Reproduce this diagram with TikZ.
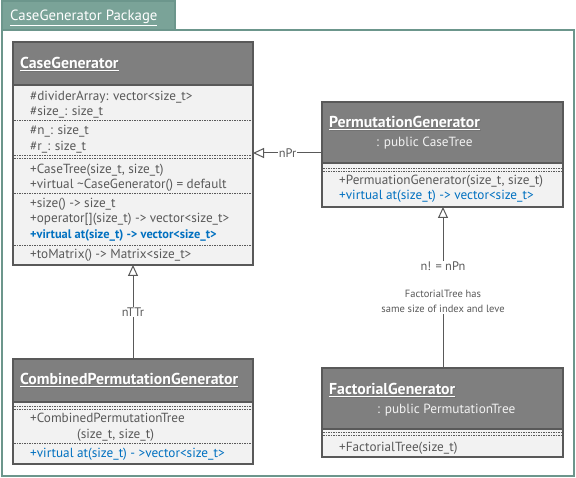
\documentclass[tikz,border=0pt]{standalone}
\usepackage{fontspec}
\setmainfont{PT Sans}
\usetikzlibrary{arrows.meta}
\definecolor{pkgteal}{RGB}{122,163,152}
\definecolor{pkgline}{RGB}{108,150,140}
\definecolor{hdrgray}{RGB}{127,127,127}
\definecolor{bodygray}{RGB}{242,242,242}
\definecolor{txtgray}{RGB}{89,89,89}
\definecolor{virtblue}{RGB}{0,112,192}
\begin{document}
\begin{tikzpicture}[x=1pt, y=-1pt]
    \tikzstyle{classbox}=[draw=txtgray, fill=bodygray, line width=1.2pt, anchor=north west, inner sep=0pt, outer sep=0pt]
    \tikzstyle{header}=[draw=txtgray, fill=hdrgray, line width=1.2pt]
    \tikzstyle{clstitle}=[anchor=base west, yshift=-5.5pt, text=white, font=\fontsize{15.8}{18}\selectfont\bfseries, inner sep=0pt]
    \tikzstyle{tshadow}=[clstitle, text=black!55]
    \tikzstyle{parent}=[anchor=base west, yshift=-4.6pt, text=bodygray, font=\fontsize{13.3}{15}\selectfont, inner sep=0pt]
    \tikzstyle{member}=[anchor=base west, yshift=-4.6pt, text=txtgray, font=\fontsize{13.2}{15}\selectfont, inner sep=0pt]
    \tikzstyle{virtual}=[member, text=virtblue]
    \tikzstyle{rowsep}=[txtgray, line width=0.8pt, dash pattern=on 1.5pt off 1pt]
    \tikzstyle{inherit}=[txtgray, line width=1pt, -{Triangle[fill=white, length=11pt, width=10pt]}]
    \tikzstyle{lbl}=[fill=white, text=txtgray, font=\fontsize{12.4}{15}\selectfont, inner sep=1pt]
    \useasboundingbox (0,0) rectangle (576,478);
    \fill [white] (0,0) rectangle (576,478);
    \draw [pkgline, fill=pkgteal, line width=1.2pt] (2,1) rectangle (175,30);
    \draw [pkgline, line width=1.5pt] (2,30) rectangle (574,476);
    \node (pkg) [anchor=base west, yshift=-5pt, text=white, font=\fontsize{14.8}{17}\selectfont, inner sep=0pt] at (10,16) {\underline{CaseGenerator Package}};

    \node (cg) [classbox, minimum width=240pt, minimum height=223pt] at (13,42) {};
    \draw [header] (13,42) rectangle (253,85);
    \node [tshadow] at (20.8,63.8) {\underline{CaseGenerator}};
    \node (cgT) [clstitle] at (20,63) {\underline{CaseGenerator}};
    \node [member] at (30,96) {\#dividerArray: vector<size\_t>};
    \node [member] at (30,111) {\#size\_: size\_t};
    \draw [rowsep] (14,120) -- (252,120);
    \node [member] at (30,130) {\#n\_: size\_t};
    \node [member] at (30,146) {\#r\_: size\_t};
    \draw [rowsep] (14,155) -- (252,155);
    \draw [rowsep] (14,158) -- (252,158);
    \node [member] at (30,169) {+CaseTree(size\_t, size\_t)};
    \node [member] at (30,184) {+virtual \textasciitilde CaseGenerator() = default};
    \draw [rowsep] (14,193) -- (252,193);
    \node [member] at (30,203) {+size() -> size\_t};
    \node [member] at (30,218) {+operator[](size\_t) -> vector<size\_t>};
    \node [virtual, font=\fontsize{12.4}{15}\selectfont\bfseries] at (30,234) {+virtual at(size\_t) -> vector<size\_t>};
    \draw [rowsep] (14,245) -- (252,245);
    \node [member] at (30,254) {+toMatrix() -> Matrix<size\_t>};

    \node (pg) [classbox, minimum width=241pt, minimum height=105pt] at (322,102) {};
    \draw [header] (322,102) rectangle (563,163);
    \node [tshadow] at (329.8,122.8) {\underline{PermutationGenerator}};
    \node (pgT) [clstitle] at (329,122) {\underline{PermutationGenerator}};
    \node [parent] at (376,142) {: public CaseTree};
    \draw [rowsep] (323,168) -- (562,168);
    \draw [rowsep] (323,171) -- (562,171);
    \node [member] at (339,180) {+PermuationGenerator(size\_t, size\_t)};
    \node [virtual] at (339,195) {+virtual at(size\_t) -> vector<size\_t>};

    \node (cpg) [classbox, minimum width=240pt, minimum height=105pt] at (13,359) {};
    \draw [header] (13,359) rectangle (253,402);
    \node [tshadow] at (20.8,379.8) {\underline{CombinedPermutationGenerator}};
    \node (cpgT) [clstitle] at (20,379) {\underline{CombinedPermutationGenerator}};
    \draw [rowsep] (14,406) -- (252,406);
    \draw [rowsep] (14,409) -- (252,409);
    \node [member] at (30,418) {+CombinedPermutationTree};
    \node [member] at (77,434) {(size\_t, size\_t)};
    \draw [rowsep] (14,443) -- (252,443);
    \node [virtual] at (30,453) {+virtual at(size\_t) - >vector<size\_t>};

    \node (fg) [classbox, minimum width=241pt, minimum height=89pt] at (322,368) {};
    \draw [header] (322,368) rectangle (563,429);
    \node [tshadow] at (329.8,389.8) {\underline{FactorialGenerator}};
    \node (fgT) [clstitle] at (329,389) {\underline{FactorialGenerator}};
    \node [parent] at (377,409) {: public PermutationTree};
    \draw [rowsep] (323,432) -- (562,432);
    \draw [rowsep] (323,435) -- (562,435);
    \node [member] at (339,447) {+FactorialTree(size\_t)};

    \draw [inherit] (pg.west |- 0,153) -- node [lbl] {nPr} (cg.east |- 0,153);
    \draw [inherit] (cpg.north) -- node [lbl] {nTTr} (cg.south);
    \draw [inherit] (fg.north -| 443,0) -- node [lbl, align=center] {n! = nPn\\[12pt]{\fontsize{10.5}{15}\selectfont FactorialTree has}\\{\fontsize{10.5}{15}\selectfont same size of index and leve}} (pg.south -| 443,0);
\end{tikzpicture}
\end{document}
